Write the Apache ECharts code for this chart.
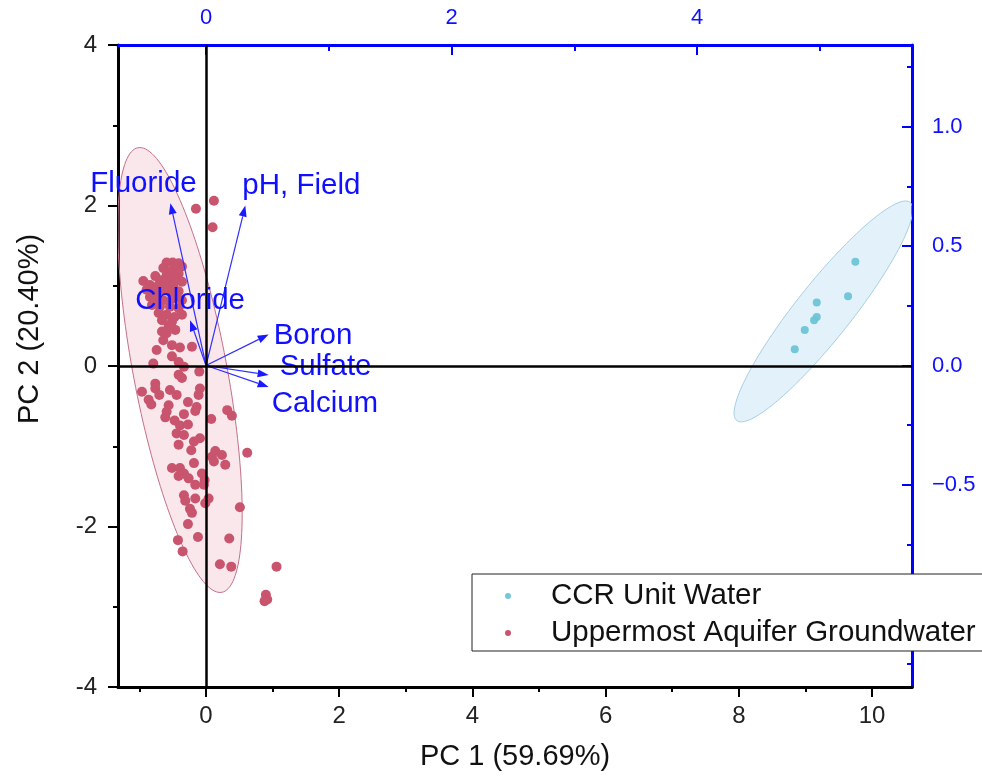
<!DOCTYPE html>
<html>
<head>
<meta charset="utf-8">
<script src="https://cdn.jsdelivr.net/npm/echarts@6/dist/echarts.min.js"></script>
<style>
html, body { margin: 0; padding: 0; background: #fff; }
#main { width: 982px; height: 776px; }
</style>
</head>
<body>
<div id="main"></div>
<script>
// scores [PC1, PC2]
var ccrWater = [
    [9.75, 1.30], [9.64, 0.87], [9.17, 0.79], [9.17, 0.61], [9.13, 0.57], [8.99, 0.45], [8.84, 0.21]
];
var groundwater = [
    [0.12, 2.06], [-0.15, 1.96], [0.10, 1.73],
    [-0.59, 1.29], [-0.50, 1.29], [-0.41, 1.28], [-0.36, 1.24], [-0.64, 1.22], [-0.49, 1.20],
    [-0.41, 1.15], [-0.76, 1.12], [-0.59, 1.13], [-0.69, 1.07], [-0.94, 1.06], [-0.54, 1.07],
    [-0.36, 1.05], [-0.84, 1.01], [-0.71, 1.01], [-0.61, 1.02], [-0.49, 1.01], [-0.89, 0.95],
    [-0.76, 0.93], [-0.66, 0.95], [-0.54, 0.93], [-0.41, 0.93], [-0.84, 0.86], [-0.71, 0.86],
    [-0.64, 0.82], [-0.51, 0.84], [-0.36, 0.82], [-0.81, 0.76], [-0.69, 0.74], [-0.54, 0.74],
    [-0.41, 0.72], [-0.71, 0.66], [-0.59, 0.64], [-0.36, 0.64], [-0.66, 0.57], [-0.51, 0.55],
    [-0.66, 0.43], [-0.59, 0.41], [-0.46, 0.45], [-0.64, 0.32], [-0.51, 0.26], [-0.39, 0.23],
    [-0.21, 0.24], [-0.74, 0.20], [-0.51, 0.12], [-0.41, 0.05], [-0.79, 0.03], [-0.33, -0.01],
    [-0.10, -0.07], [-0.41, -0.11], [-0.36, -0.15], [-0.76, -0.22],
    [-0.96, -0.32], [-0.76, -0.28], [-0.54, -0.30], [-0.44, -0.36], [-0.09, -0.28], [-0.11, -0.36],
    [-0.86, -0.42], [-0.82, -0.48], [-0.56, -0.49], [-0.27, -0.45], [-0.14, -0.51], [-0.59, -0.57],
    [-0.16, -0.56], [-0.61, -0.64], [-0.33, -0.60], [0.32, -0.55], [0.39, -0.62], [0.08, -0.66],
    [-0.39, -0.74], [-0.27, -0.73], [-0.44, -0.84], [-0.33, -0.86], [-0.09, -0.90], [-0.18, -0.94],
    [-0.41, -0.98], [0.62, -1.08], [0.14, -1.06], [0.24, -1.11], [0.09, -1.13], [0.12, -1.19],
    [0.29, -1.23], [-0.18, -1.21], [-0.51, -1.27], [-0.39, -1.27], [-0.33, -1.34], [-0.41, -1.37],
    [-0.06, -1.34], [-0.02, -1.42], [-0.16, -1.48], [-0.03, -1.48], [-0.33, -1.61], [-0.31, -1.68],
    [-0.16, -1.65], [0.04, -1.65], [-0.01, -1.71], [-0.24, -1.78], [-0.21, -1.83], [0.51, -1.76],
    [-0.27, -1.97], [-0.12, -2.13], [0.35, -2.15], [-0.42, -2.17], [-0.35, -2.31], [0.21, -2.47],
    [0.38, -2.50], [1.06, -2.50], [0.90, -2.85], [0.92, -2.91], [0.88, -2.93],
    [-0.55, 1.17], [-0.45, 1.09], [-0.62, 0.98], [-0.46, 0.88], [-0.78, 0.80], [-0.47, 0.61],
    [-0.56, 0.50], [-0.70, -0.36], [-0.47, -0.68], [-0.22, -1.05], [-0.26, -1.40]
];

// loadings, read against the top / right axes
var loadingNames = ['Fluoride', 'pH, Field', 'Chloride', 'Boron', 'Sulfate', 'Calcium'];
var loadingPC1 = [-0.29, 0.32, -0.13, 0.51, 0.51, 0.51];
var loadingPC2 = [0.68, 0.67, 0.19, 0.13, -0.04, -0.09];

// confidence ellipses: centre x, centre y, half-axis u (x, y), half-axis v (x, y)
var ellipseGround = [-0.39, -0.05, 0.63, -2.77, 0.69, 0.11];
var ellipseCCR = [9.27, 0.68, 1.30, 1.36, 0.33, -0.21];

var pc1Ticks = [0, 2, 4, 6, 8, 10];
var pc1Minor = [-1, 1, 3, 5, 7, 9];
var topTicks = [0, 2, 4];
var topMinor = [1, 3, 5];
var rightTicks = [-1, -0.5, 0, 0.5, 1];
var rightMinor = [-1.25, -0.75, -0.25, 0.25, 0.75, 1.25];

var BLUE = '#1010ff';
var FONT = '"Liberation Sans", Arial, sans-serif';
var NARROW = '"Liberation Sans Narrow", "Arial Narrow", "Liberation Sans", sans-serif';

function ellipseRender(e, fill, stroke) {
    return function (params, api) {
        var pts = [];
        for (var i = 0; i < 160; i++) {
            var t = i / 160 * Math.PI * 2;
            pts.push(api.coord([
                e[0] + e[2] * Math.cos(t) + e[4] * Math.sin(t),
                e[1] + e[3] * Math.cos(t) + e[5] * Math.sin(t)
            ]));
        }
        return {
            type: 'polygon',
            shape: { points: pts },
            style: { fill: fill, stroke: stroke, lineWidth: 1 }
        };
    };
}

// label placement next to each arrow tip: dx, dy, align
var labelPos = [[-27, -19, 'center'], [-3, -20, 'left'], [0, -19, 'center'], [5, 1, 'left'], [11, -8, 'left'], [3, 17, 'left']];

function arrowRender(params, api) {
    var i = params.dataIndex;
    var o = api.coord([0, 0]);
    var p = api.coord([api.value(0), api.value(1)]);
    var dx = p[0] - o[0], dy = p[1] - o[1];
    var len = Math.sqrt(dx * dx + dy * dy);
    var ux = dx / len, uy = dy / len;
    var hl = 11, hw = 4;
    var bx = p[0] - ux * hl, by = p[1] - uy * hl;
    return {
        type: 'group',
        children: [
            { type: 'line', shape: { x1: o[0], y1: o[1], x2: bx, y2: by }, style: { stroke: '#3030ff', lineWidth: 1.2 } },
            {
                type: 'polygon',
                shape: { points: [p, [bx - uy * hw, by + ux * hw], [bx + uy * hw, by - ux * hw]] },
                style: { fill: '#1a1aff' }
            },
            {
                type: 'text',
                x: p[0] + labelPos[i][0],
                y: p[1] + labelPos[i][1],
                style: {
                    text: loadingNames[i], fill: BLUE, fontSize: 29.5, fontFamily: FONT,
                    align: labelPos[i][2], verticalAlign: 'middle'
                }
            }
        ]
    };
}

var loadings = loadingPC1.map(function (v, i) { return [v, loadingPC2[i]]; });

function minorAxis(pos, min, max, values, inside, len, color) {
    return {
        type: 'value', position: pos, min: min, max: max,
        axisLine: { show: false, onZero: false },
        axisTick: { show: true, inside: inside, length: len, customValues: values, lineStyle: { color: color, width: 2 } },
        axisLabel: { show: false },
        splitLine: { show: false }
    };
}

var chart = echarts.init(document.getElementById('main'));
chart.setOption({
    animation: false,
    backgroundColor: '#fff',
    grid: { left: 118, right: 70, top: 45, bottom: 88 },
    legend: {
        orient: 'vertical', left: 500, top: 576,
        itemWidth: 6, itemHeight: 6, itemGap: 7, icon: 'circle',
        textStyle: { fontSize: 29.5, fontFamily: FONT, color: '#111', lineHeight: 29, padding: [0, 0, 0, 35] },
        data: ['CCR Unit Water', 'Uppermost Aquifer Groundwater']
    },
    graphic: [{
        type: 'rect', z: 3,
        shape: { x: 472, y: 574, width: 530, height: 77 },
        style: { fill: '#fff', stroke: '#222', lineWidth: 1 }
    }],
    xAxis: [
        {
            type: 'value', position: 'bottom', min: -1.32, max: 10.6,
            name: 'PC 1 (59.69%)', nameLocation: 'middle', nameGap: 55,
            nameTextStyle: { fontSize: 29, fontFamily: FONT, color: '#111' },
            axisLine: { onZero: false, lineStyle: { color: '#000', width: 3 } },
            axisTick: { customValues: pc1Ticks, length: 10, lineStyle: { color: '#000', width: 2 } },
            axisLabel: { customValues: pc1Ticks, fontSize: 24, fontFamily: NARROW, color: '#222', margin: 17 },
            splitLine: { show: false }
        },
        {
            type: 'value', position: 'top', min: -0.717, max: 5.75,
            axisLine: { onZero: false, lineStyle: { color: '#0000ff', width: 3 } },
            axisTick: { customValues: topTicks, inside: true, length: 10, lineStyle: { color: '#0000ff', width: 2 } },
            axisLabel: { customValues: topTicks, fontSize: 22, fontFamily: FONT, color: BLUE, margin: 16 },
            splitLine: { show: false }
        },
        minorAxis('bottom', -1.32, 10.6, pc1Minor, false, 5, '#000'),
        minorAxis('top', -0.717, 5.75, topMinor, true, 6, '#0000ff')
    ],
    yAxis: [
        {
            type: 'value', position: 'left', min: -4, max: 4, interval: 2,
            name: 'PC 2 (20.40%)', nameLocation: 'middle', nameGap: 74,
            nameTextStyle: { fontSize: 29, fontFamily: FONT, color: '#111', padding: [0, 0, 0, 74] },
            axisLine: { onZero: false, lineStyle: { color: '#000', width: 3 } },
            axisTick: { length: 10, lineStyle: { color: '#000', width: 2 } },
            minorTick: { show: true, splitNumber: 2, length: 5, lineStyle: { color: '#000', width: 2 } },
            axisLabel: { fontSize: 24, fontFamily: NARROW, color: '#222', margin: 21 },
            splitLine: { show: false }
        },
        {
            type: 'value', position: 'right', min: -1.347, max: 1.343,
            axisLine: { onZero: false, lineStyle: { color: '#0000ff', width: 3 } },
            axisTick: { customValues: rightTicks, inside: true, length: 10, lineStyle: { color: '#0000ff', width: 2 } },
            axisLabel: {
                customValues: rightTicks, fontSize: 22, fontFamily: FONT, color: BLUE, margin: 20,
                formatter: function (v) { return (v < 0 ? '\u2212' : '') + Math.abs(v).toFixed(1); }
            },
            splitLine: { show: false }
        },
        minorAxis('right', -1.347, 1.343, rightMinor, true, 5, '#0000ff')
    ],
    series: [
        {
            type: 'custom', name: 'ellipseGround', z: 1, clip: true,
            xAxisIndex: 0, yAxisIndex: 0,
            renderItem: ellipseRender(ellipseGround, 'rgba(235,175,190,0.3)', '#c47088'),
            data: [[ellipseGround[0], ellipseGround[1]]], silent: true
        },
        {
            type: 'custom', name: 'ellipseCCR', z: 1, clip: true,
            xAxisIndex: 0, yAxisIndex: 0,
            renderItem: ellipseRender(ellipseCCR, 'rgba(185,222,242,0.4)', '#a6cfe2'),
            data: [[ellipseCCR[0], ellipseCCR[1]]], silent: true
        },
        {
            type: 'line', name: 'zero', z: 1.5, data: [],
            xAxisIndex: 0, yAxisIndex: 0,
            markLine: {
                silent: true, symbol: ['none', 'none'], label: { show: false },
                lineStyle: { color: '#000', width: 2.5, type: 'solid' },
                data: [{ xAxis: 0 }, { yAxis: 0 }]
            }
        },
        {
            type: 'scatter', name: 'CCR Unit Water', z: 2,
            xAxisIndex: 0, yAxisIndex: 0,
            symbolSize: 8,
            itemStyle: { color: '#6cc4d6', opacity: 0.95 },
            data: ccrWater
        },
        {
            type: 'scatter', name: 'Uppermost Aquifer Groundwater', z: 2,
            xAxisIndex: 0, yAxisIndex: 0,
            symbolSize: 10,
            itemStyle: { color: '#c8546e', opacity: 1 },
            data: groundwater
        },
        {
            type: 'custom', name: 'loadings', z: 3, clip: false,
            xAxisIndex: 1, yAxisIndex: 1,
            renderItem: arrowRender,
            data: loadings, silent: true
        }
    ]
});
</script>
</body>
</html>
